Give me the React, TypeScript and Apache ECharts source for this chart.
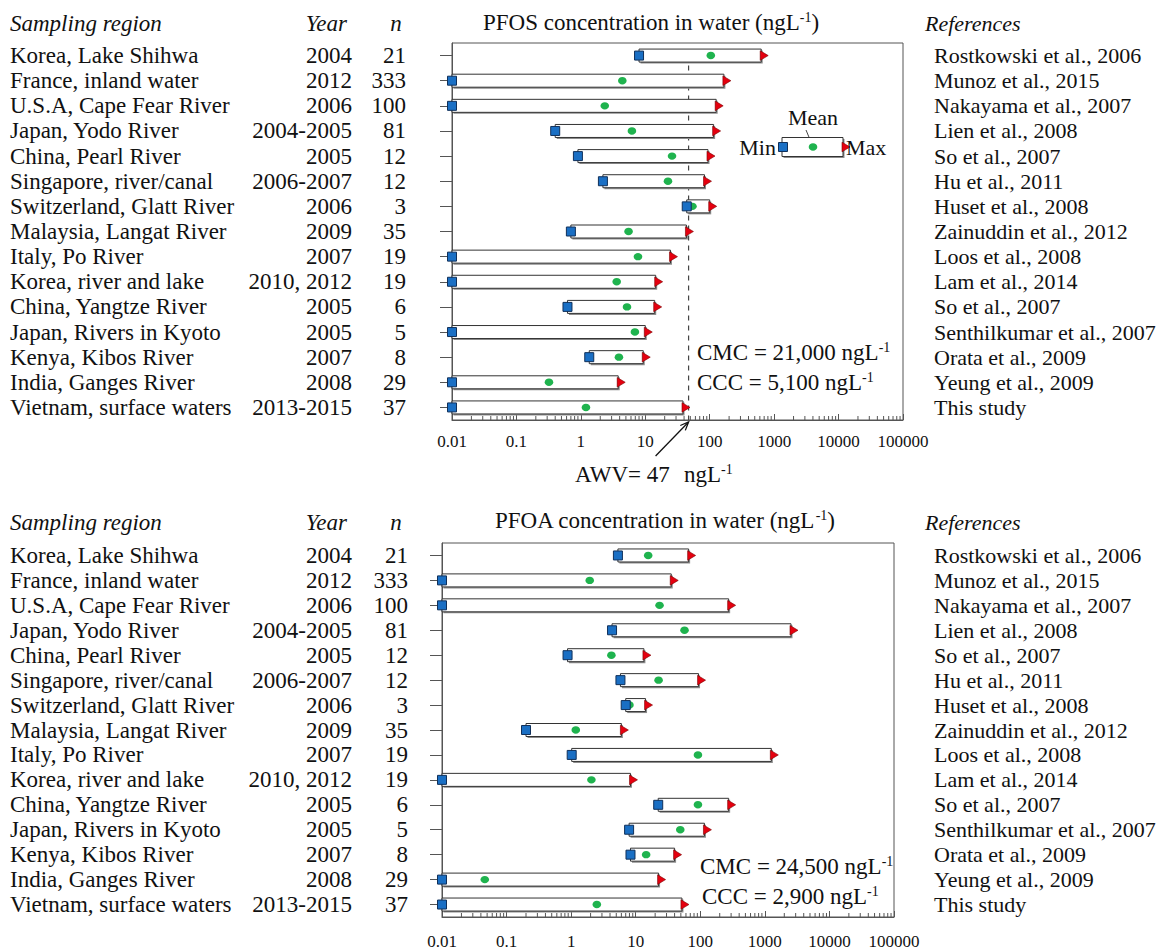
import React, { useEffect, useRef } from "react";
import * as echarts from "echarts";

const FONT = "'Liberation Serif', 'Times New Roman', 'DejaVu Serif', serif";

const regions = [
  "Korea, Lake Shihwa",
  "France, inland water",
  "U.S.A, Cape Fear River",
  "Japan, Yodo River",
  "China, Pearl River",
  "Singapore, river/canal",
  "Switzerland, Glatt River",
  "Malaysia, Langat River",
  "Italy, Po River",
  "Korea, river and lake",
  "China, Yangtze River",
  "Japan, Rivers in Kyoto",
  "Kenya, Kibos River",
  "India, Ganges River",
  "Vietnam, surface waters",
];
const years = [
  "2004", "2012", "2006", "2004-2005", "2005", "2006-2007", "2006", "2009",
  "2007", "2010, 2012", "2005", "2005", "2007", "2008", "2013-2015",
];
const nValues = ["21", "333", "100", "81", "12", "12", "3", "35", "19", "19", "6", "5", "8", "29", "37"];
const references = [
  "Rostkowski et al., 2006",
  "Munoz et al., 2015",
  "Nakayama et al., 2007",
  "Lien et al., 2008",
  "So et al., 2007",
  "Hu et al., 2011",
  "Huset et al., 2008",
  "Zainuddin et al., 2012",
  "Loos et al., 2008",
  "Lam et al., 2014",
  "So et al., 2007",
  "Senthilkumar et al., 2007",
  "Orata et al., 2009",
  "Yeung et al., 2009",
  "This study",
];

const pfosMin = [8, 0.01, 0.01, 0.4, 0.9, 2.2, 44, 0.7, 0.01, 0.01, 0.62, 0.01, 1.35, 0.01, 0.01];
const pfosMean = [104, 4.4, 2.35, 6.2, 26, 22.5, 54, 5.5, 7.7, 3.6, 5.2, 6.9, 3.9, 0.32, 1.2];
const pfosMax = [630, 166, 126, 115, 94, 83, 100, 43.5, 24.6, 14.5, 14, 10, 9.3, 3.8, 38.5];

const pfoaMin = [5.3, 0.01, 0.01, 4.3, 0.88, 5.8, 7, 0.2, 1.02, 0.01, 22.3, 7.9, 8.3, 0.01, 0.01];
const pfoaMean = [15.6, 1.94, 23.4, 57, 4.2, 22.6, 8, 1.18, 92, 2.06, 92, 49, 14.5, 0.046, 2.5];
const pfoaMax = [66, 35.5, 275, 2540, 13.4, 94, 14.2, 6, 1260, 8.3, 275, 116, 40, 22.6, 52];

const awvValue = 47;
const xTickLabels = ["0.01", "0.1", "1", "10", "100", "1000", "10000", "100000"];
const minorDecades = [0.01, 0.1, 1, 10, 100, 1000, 10000];
const minorSteps = [2, 3, 4, 5, 6, 7, 8, 9];

const AX = "#555";
const TXT = "#111";

function boxItem(params: any, api: any) {
  const row = api.value(0);
  const pMin = api.coord([api.value(1), row]);
  const pMean = api.coord([api.value(2), row]);
  const pMax = api.coord([api.value(3), row]);
  const h = 13;
  const y = pMin[1];
  const w = pMax[0] - pMin[0];
  return {
    type: "group",
    children: [
      { type: "rect", shape: { x: pMin[0] + 1.5, y: y - h / 2 + 1.5, width: w, height: h }, style: { fill: "#8c8c8c" } },
      { type: "rect", shape: { x: pMin[0], y: y - h / 2, width: w, height: h }, style: { fill: "#fff", stroke: "#333", lineWidth: 1 } },
      { type: "ellipse", shape: { cx: pMean[0], cy: y, rx: 4.3, ry: 3.7 }, style: { fill: "#1fb34e" } },
      { type: "rect", shape: { x: pMin[0] - 4.5, y: y - 4.5, width: 9, height: 9 }, style: { fill: "#1a6fc4", stroke: "#10305a", lineWidth: 1 } },
      {
        type: "polygon",
        shape: { points: [[pMax[0] - 1, y - 4.8], [pMax[0] + 7, y], [pMax[0] - 1, y + 4.8]] },
        style: { fill: "#e5000f", stroke: "#7a0000", lineWidth: 0.6 },
      },
    ],
  };
}

function minorTickItem(params: any, api: any) {
  const p = api.coord([api.value(0), 0]);
  const cs = params.coordSys;
  const yb = cs.y + cs.height;
  return {
    type: "line",
    shape: { x1: p[0], y1: yb, x2: p[0], y2: yb - 4 },
    style: { stroke: AX, lineWidth: 1 },
  };
}

function awvItem(params: any, api: any) {
  const p = api.coord([api.value(0), 0]);
  const cs = params.coordSys;
  const yb = cs.y + cs.height;
  const x = p[0];
  const tipY = yb + 2;
  const tailX = x - 33;
  const tailY = yb + 36;
  const ang = Math.atan2(tipY - tailY, x - tailX);
  const hl = 9;
  const a1 = ang + Math.PI - 0.4;
  const a2 = ang + Math.PI + 0.4;
  return {
    type: "group",
    children: [
      {
        type: "line",
        shape: { x1: x, y1: p[1], x2: x, y2: yb },
        style: { stroke: "#444", lineWidth: 1.2, lineDash: [5, 5] },
      },
      { type: "line", shape: { x1: tailX, y1: tailY, x2: x, y2: tipY }, style: { stroke: "#111", lineWidth: 1.3 } },
      {
        type: "polyline",
        shape: {
          points: [
            [x + hl * Math.cos(a1), tipY + hl * Math.sin(a1)],
            [x, tipY],
            [x + hl * Math.cos(a2), tipY + hl * Math.sin(a2)],
          ],
        },
        style: { stroke: "#111", lineWidth: 1.3, fill: "none" },
      },
    ],
  };
}

function makeYAxes(gridIndex: number, leftX: number, rightX: number, yearRight: number, nRight: number) {
  const base = {
    gridIndex,
    type: "category",
    data: regions,
    inverse: true,
    position: "left",
    axisLine: { show: false },
    axisTick: { show: false },
    splitLine: { show: false },
  };
  const lab = { interval: 0, fontFamily: FONT, fontSize: 23, color: TXT };
  return [
    {
      ...base,
      axisLine: { show: true, lineStyle: { color: AX, width: 1 } },
      axisTick: { show: true, alignWithLabel: true, length: 12, lineStyle: { color: AX } },
      axisLabel: { ...lab, align: "left", margin: leftX - 10 },
    },
    {
      ...base,
      axisLabel: { ...lab, align: "right", margin: leftX - yearRight, formatter: (_v: string, i: number) => years[i] },
    },
    {
      ...base,
      axisLabel: { ...lab, align: "right", margin: leftX - nRight, formatter: (_v: string, i: number) => nValues[i] },
    },
    {
      ...base,
      position: "right",
      axisLabel: { ...lab, fontSize: 22, align: "left", margin: 934 - rightX, padding: [6, 0, 0, 0], formatter: (_v: string, i: number) => references[i] },
    },
  ];
}

function makeXAxis(gridIndex: number, margin: number) {
  return {
    gridIndex,
    type: "log",
    logBase: 10,
    min: 0.01,
    max: 100000,
    splitNumber: 7,
    axisLine: { show: true, lineStyle: { color: AX, width: 1 } },
    axisTick: { show: true, inside: true, length: 6, lineStyle: { color: AX } },
    splitLine: { show: false },
    axisLabel: {
      fontFamily: FONT,
      fontSize: 17,
      color: TXT,
      margin,
      formatter: (v: number) => xTickLabels[Math.round(Math.log10(v)) + 2],
    },
  };
}

const minorData: number[][] = [];
minorDecades.forEach((d) => minorSteps.forEach((s) => minorData.push([d * s])));

function rowsData(mins: number[], means: number[], maxs: number[]) {
  return regions.map((_r, i) => [i, mins[i], means[i], maxs[i]]);
}

const rich = {
  a: { fontFamily: FONT, fontSize: 23, color: TXT },
  s: { fontFamily: FONT, fontSize: 14, color: TXT, verticalAlign: "top" },
};

function txt(x: number, y: number, text: string, align = "left", italic = false, size = 23) {
  return {
    type: "text",
    x,
    y,
    style: {
      text,
      fontFamily: FONT,
      fontSize: size,
      fontStyle: italic ? "italic" : "normal",
      fill: TXT,
      align,
      verticalAlign: "middle",
    },
  };
}

function richTxt(x: number, y: number, text: string) {
  return {
    type: "text",
    x,
    y,
    style: { text, rich, fill: TXT, align: "left", verticalAlign: "middle", fontFamily: FONT, fontSize: 23 },
  };
}

export default function App() {
  const ref = useRef<HTMLDivElement>(null);
  useEffect(() => {
    if (!ref.current) return;
    const chart = echarts.init(ref.current, null, { renderer: "svg" });
    const option: any = {
      animation: false,
      backgroundColor: "#fff",
      textStyle: { fontFamily: FONT },
      grid: [
        { left: 452, top: 43, width: 451, height: 377, show: true, borderColor: AX, borderWidth: 1, outerBoundsMode: "none" },
        { left: 442, top: 543, width: 452, height: 374, show: true, borderColor: AX, borderWidth: 1, outerBoundsMode: "none" },
      ],
      xAxis: [makeXAxis(0, 13), makeXAxis(1, 16)],
      yAxis: [...makeYAxes(0, 452, 903, 352, 406), ...makeYAxes(1, 442, 894, 352, 408)],
      series: [
        { type: "custom", xAxisIndex: 0, yAxisIndex: 0, data: minorData, encode: { x: 0 }, renderItem: minorTickItem, silent: true },
        { type: "custom", xAxisIndex: 1, yAxisIndex: 4, data: minorData, encode: { x: 0 }, renderItem: minorTickItem, silent: true },
        { type: "custom", xAxisIndex: 0, yAxisIndex: 0, data: [[awvValue, 0]], encode: { x: 0, y: 1 }, renderItem: awvItem, silent: true, z: 1 },
        {
          type: "custom",
          name: "PFOS",
          xAxisIndex: 0,
          yAxisIndex: 0,
          data: rowsData(pfosMin, pfosMean, pfosMax),
          dimensions: ["row", "min", "mean", "max"],
          encode: { y: 0, x: [1, 2, 3] },
          renderItem: boxItem,
          z: 3,
        },
        {
          type: "custom",
          name: "PFOA",
          xAxisIndex: 1,
          yAxisIndex: 4,
          data: rowsData(pfoaMin, pfoaMean, pfoaMax),
          dimensions: ["row", "min", "mean", "max"],
          encode: { y: 0, x: [1, 2, 3] },
          renderItem: boxItem,
          z: 3,
        },
      ],
      graphic: [
        txt(10, 23, "Sampling region", "left", true),
        txt(347, 23, "Year", "right", true),
        txt(396, 23, "n", "center", true),
        richTxt(483, 22, "{a|PFOS concentration in water (ngL}{s|-1}{a|)}"),
        txt(925, 23, "References", "left", true, 22),
        txt(10, 522, "Sampling region", "left", true),
        txt(347, 522, "Year", "right", true),
        txt(396, 522, "n", "center", true),
        richTxt(495, 520, "{a|PFOA concentration in water (ngL}{s|-1}{a|)}"),
        txt(925, 522, "References", "left", true, 22),
        richTxt(697, 352, "{a|CMC = 21,000 ngL}{s|-1}"),
        richTxt(697, 382, "{a|CCC = 5,100 ngL}{s|-1}"),
        richTxt(700, 866, "{a|CMC = 24,500 ngL}{s|-1}"),
        richTxt(702, 896, "{a|CCC = 2,900 ngL}{s|-1}"),
        richTxt(575, 474, "{a|AWV= 47}"),
        richTxt(684, 474, "{a|ngL}{s|-1}"),
        txt(813, 117, "Mean", "center", false, 22),
        { type: "line", shape: { x1: 806, y1: 130, x2: 811, y2: 142 }, style: { stroke: "#444", lineWidth: 1 } },
        { type: "rect", shape: { x: 783.5, y: 139, width: 61, height: 19 }, style: { fill: "#8c8c8c" } },
        { type: "rect", shape: { x: 782, y: 137.5, width: 61, height: 19 }, style: { fill: "#fff", stroke: "#333", lineWidth: 1 } },
        { type: "rect", shape: { x: 778.5, y: 142.5, width: 9, height: 9 }, style: { fill: "#1a6fc4", stroke: "#10305a", lineWidth: 1 } },
        { type: "ellipse", shape: { cx: 813, cy: 147, rx: 4.3, ry: 3.7 }, style: { fill: "#1fb34e" } },
        {
          type: "polygon",
          shape: { points: [[842, 142.2], [850, 147], [842, 151.8]] },
          style: { fill: "#e5000f", stroke: "#7a0000", lineWidth: 0.6 },
        },
        txt(776, 147, "Min", "right", false, 22),
        txt(846, 147, "Max", "left", false, 22),
      ],
    };
    chart.setOption(option);
    return () => chart.dispose();
  }, []);
  return <div ref={ref} style={{ position: "absolute", left: 0, top: 0, width: 1161, height: 950, background: "#fff" }} />;
}
